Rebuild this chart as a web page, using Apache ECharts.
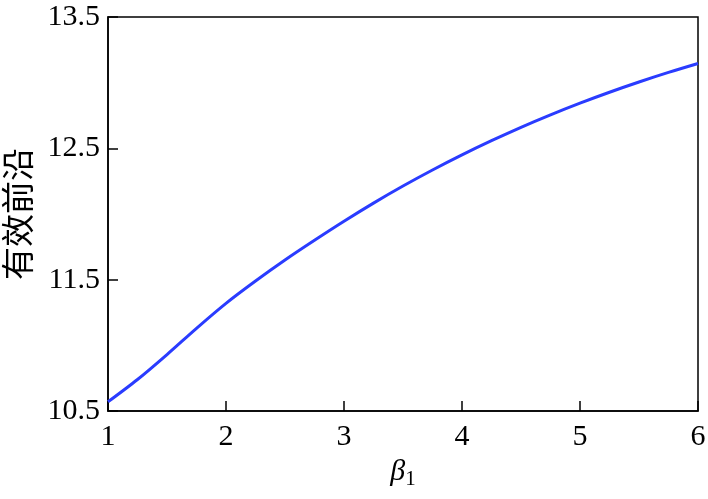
<!DOCTYPE html>
<html>
<head>
<meta charset="utf-8">
<script src="https://cdn.jsdelivr.net/npm/echarts@6/dist/echarts.min.js"></script>
<style>html,body{margin:0;padding:0;background:#fff;}#c{width:708px;height:499px;}</style>
</head>
<body>
<div id="c"></div>
<script>
const betaValues = [1.0, 1.25, 1.5, 1.75, 2.0, 2.25, 2.5, 2.75, 3.0, 3.25, 3.5, 3.75, 4.0, 4.25, 4.5, 4.75, 5.0, 5.25, 5.5, 5.75, 6.0];
const frontierValues = [10.57, 10.74, 10.93, 11.13, 11.32, 11.49, 11.65, 11.80, 11.945, 12.083, 12.213, 12.335, 12.45, 12.558, 12.66, 12.755, 12.844, 12.927, 13.005, 13.078, 13.146];
const xTicks = [1, 2, 3, 4, 5, 6];
const yTicks = [10.5, 11.5, 12.5, 13.5];
const xName = 'β';
const xSub = '1';
const yName = '有效前沿';

const serif = 'Liberation Serif';
const chart = echarts.init(document.getElementById('c'));
chart.setOption({
  animation: false,
  backgroundColor: '#fff',
  grid: { left: 108, right: 10, top: 17, bottom: 88, show: true, borderColor: '#000', borderWidth: 1.5, backgroundColor: 'transparent', containLabel: false, outerBoundsMode: 'none' },
  xAxis: {
    type: 'value', min: xTicks[0], max: xTicks[xTicks.length - 1], interval: 1,
    name: '{b|' + xName + '}{s|' + xSub + '}', nameLocation: 'middle', nameGap: 42,
    nameTextStyle: {
      color: '#000',
      rich: {
        b: { fontFamily: serif, fontStyle: 'italic', fontSize: 30, lineHeight: 36, color: '#000' },
        s: { fontFamily: serif, fontSize: 21, lineHeight: 24, verticalAlign: 'bottom', color: '#000' }
      }
    },
    axisLine: { show: true, lineStyle: { color: '#000', width: 1.5 } },
    axisTick: { show: true, inside: true, length: 10, lineStyle: { color: '#000', width: 1.5 } },
    axisLabel: { color: '#000', fontFamily: serif, fontSize: 30, margin: 11, formatter: v => String(v) },
    splitLine: { show: false }
  },
  yAxis: {
    type: 'value', min: yTicks[0], max: yTicks[yTicks.length - 1], interval: 1,
    name: yName, nameLocation: 'middle', nameGap: 74, nameRotate: 90,
    nameTextStyle: { color: '#000', fontFamily: 'Noto Sans CJK SC', fontSize: 33 },
    axisLine: { show: true, lineStyle: { color: '#000', width: 1.5 } },
    axisTick: { show: true, inside: true, length: 10, lineStyle: { color: '#000', width: 1.5 } },
    axisLabel: { color: '#000', fontFamily: serif, fontSize: 30, margin: 8, formatter: v => v.toFixed(1) },
    splitLine: { show: false }
  },
  series: [{
    type: 'line',
    data: betaValues.map((b, i) => [b, frontierValues[i]]),
    smooth: 0.3,
    showSymbol: false,
    lineStyle: { color: '#2a3cff', width: 3 },
    clip: true
  }]
});
</script>
</body>
</html>
